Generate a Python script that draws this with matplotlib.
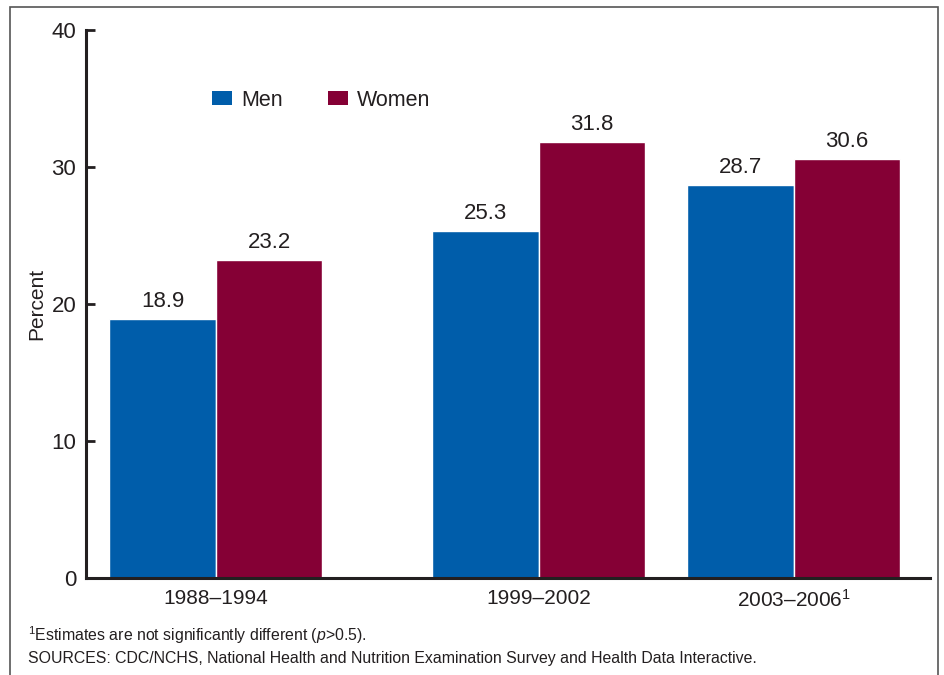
import matplotlib
matplotlib.use("Agg")
import matplotlib.pyplot as plt
from matplotlib.patches import Patch, Rectangle

plt.rcParams["font.family"] = ["Liberation Sans", "DejaVu Sans"]
plt.rcParams["mathtext.fontset"] = "custom"
plt.rcParams["mathtext.rm"] = "Liberation Sans"
plt.rcParams["mathtext.it"] = "Liberation Sans:italic"

# Obesity prevalence by survey period
periods = ["1988–1994", "1999–2002", "2003–2006$^{\\mathrm{1}}$"]
men = [18.9, 25.3, 28.7]
women = [23.2, 31.8, 30.6]
series_names = ["Men", "Women"]

MEN_COLOR = "#005DAA"
WOMEN_COLOR = "#850035"
INK = "#231F20"

# group centres along the x axis (periods are not evenly spaced)
centres = [1.23, 4.29, 6.71]
BAR_W = 1.01

fig = plt.figure(figsize=(9.45, 6.75), dpi=100)
ax = fig.add_axes([0.091, 0.1437, 0.893, 0.8119])

men_x = [c - BAR_W / 2 for c in centres]
women_x = [c + BAR_W / 2 for c in centres]
b1 = ax.bar(men_x, men, width=BAR_W, color=MEN_COLOR, edgecolor="white", linewidth=1)
b2 = ax.bar(women_x, women, width=BAR_W, color=WOMEN_COLOR, edgecolor="white", linewidth=1)

for bars, vals in ((b1, men), (b2, women)):
    for rect, v in zip(bars, vals):
        ax.annotate(f"{v:.1f}", (rect.get_x() + rect.get_width() / 2, v),
                    xytext=(0, 5), textcoords="offset points",
                    ha="center", va="bottom", fontsize=16, color=INK)

ax.set_xlim(0, 8)
ax.set_ylim(0, 40)
ax.set_yticks([0, 10, 20, 30, 40])
ax.set_xticks(centres)
ax.set_xticklabels(periods)
ax.tick_params(axis="y", direction="in", length=6.5, width=2, color=INK,
               labelsize=16, labelcolor=INK, pad=7)
ax.tick_params(axis="x", length=0, labelsize=15, labelcolor=INK, pad=8)
ax.set_ylabel("Percent", fontsize=15, color=INK, labelpad=4)

for side in ("top", "right"):
    ax.spines[side].set_visible(False)
for side in ("left", "bottom"):
    ax.spines[side].set_linewidth(2.2)
    ax.spines[side].set_color(INK)

handles = [Patch(facecolor=MEN_COLOR), Patch(facecolor=WOMEN_COLOR)]
fig.legend(handles, series_names, loc="center left",
           bbox_to_anchor=(212 / 945, (675 - 100) / 675), ncol=2,
           frameon=False, fontsize=15.5, handlelength=0.95, handleheight=0.65,
           handletextpad=0.4, columnspacing=2.1, borderpad=0, borderaxespad=0,
           labelcolor=INK)

fig.text(28 / 945, (675 - 635) / 675,
         "$^{\\mathrm{1}}$Estimates are not significantly different ($p$>0.5).",
         fontsize=11.4, color=INK, va="center")
fig.text(28 / 945, (675 - 659) / 675,
         "SOURCES: CDC/NCHS, National Health and Nutrition Examination Survey and Health Data Interactive.",
         fontsize=11.4, color=INK, va="center")

# outer frame
fig.add_artist(Rectangle((10 / 945, -0.02), (938 - 10) / 945, (675 - 7) / 675 + 0.02,
                         transform=fig.transFigure, fill=False,
                         edgecolor="#555555", linewidth=1.2))

fig.savefig("out.png", dpi=100)
